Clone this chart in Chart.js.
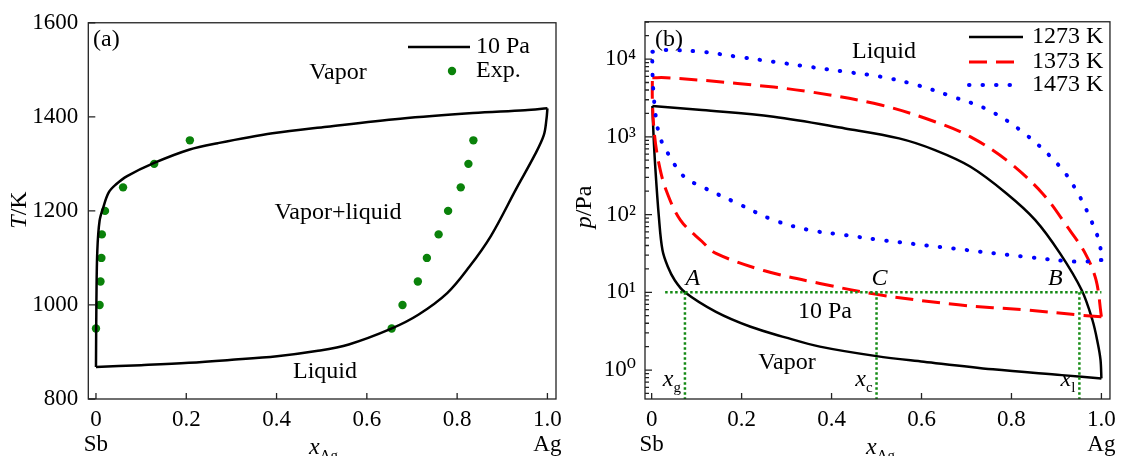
<!DOCTYPE html>
<html><head><meta charset="utf-8">
<script src="https://cdn.jsdelivr.net/npm/chart.js@4.4.0/dist/chart.umd.min.js"></script>
<style>
html,body{margin:0;padding:0;background:#fff;}
#wrap{position:relative;width:1124px;height:456px;overflow:hidden;background:#fff;}
canvas{position:absolute;left:0;top:0;}
</style></head><body>
<div id="wrap"><canvas id="ca" width="1124" height="456"></canvas><canvas id="cb" width="1124" height="456"></canvas></div>
<script>
// ---------- Panel (a): T-x phase diagram at 10 Pa ----------
const aLiqX = [0, 0.1, 0.206, 0.296, 0.401, 0.488, 0.56, 0.653, 0.714, 0.778, 0.827, 0.875, 0.932, 0.972, 0.992, 0.998, 1.0];
const aLiqT = [868, 872, 877, 883, 891, 902, 916, 949, 979, 1025, 1081, 1147, 1249, 1319, 1361, 1396, 1418];
const aVapX = [1.0, 0.95, 0.835, 0.674, 0.512, 0.391, 0.27, 0.206, 0.129, 0.069, 0.044, 0.028, 0.016, 0.008, 0.003, 0.001, 0];
const aVapT = [1418, 1414, 1408, 1396, 1379, 1365, 1344, 1330, 1302, 1274, 1256, 1239, 1207, 1179, 1116, 1011, 868];
const expX = [0, 0.008, 0.010, 0.012, 0.013, 0.02, 0.06, 0.129, 0.208,
              0.655, 0.679, 0.713, 0.733, 0.759, 0.780, 0.808, 0.825, 0.836];
const expT = [950, 1000, 1050, 1100, 1150, 1200, 1250, 1300, 1350,
              950, 1000, 1050, 1100, 1150, 1200, 1250, 1300, 1350];
const aXTicks = [0, 0.2, 0.4, 0.6, 0.8, 1.0];
const aXTickLabels = [['0', 'Sb'], '0.2', '0.4', '0.6', '0.8', ['1.0', 'Ag']];
const aYTicks = [800, 1000, 1200, 1400, 1600];
const aYTickLabels = ['800', '1000', '1200', '1400', '1600'];

// ---------- Panel (b): p-x phase diagram ----------
const xLiq1273 = [0.0016, 0.112, 0.271, 0.43, 0.55, 0.63, 0.709, 0.789, 0.853, 0.908, 0.956, 0.98, 0.992, 0.998, 1.0];
const pLiq1273 = [2490, 2208, 1812, 1283, 955, 675, 412, 187, 85, 31.7, 10.7, 4.4, 2.2, 1.35, 0.78];
const xVap1273 = [1.0, 0.912, 0.759, 0.605, 0.5, 0.374, 0.297, 0.22, 0.143, 0.074, 0.051, 0.036, 0.024, 0.016, 0.008, 0.004, 0.0016];
const pVap1273 = [0.78, 0.86, 1.02, 1.28, 1.51, 2.0, 2.63, 3.6, 5.6, 10, 14.4, 21.3, 35, 93.8, 412, 1107, 2490];
const xLiq1373 = [0.0016, 0.032, 0.191, 0.351, 0.51, 0.63, 0.709, 0.789, 0.869, 0.924, 0.964, 0.988, 1.0];
const pLiq1373 = [5760, 5760, 4866, 3800, 2560, 1563, 1000, 502, 187, 69.8, 31.7, 14.4, 4.85];
const xVap1373 = [1.0, 0.951, 0.836, 0.682, 0.5, 0.374, 0.251, 0.143, 0.112, 0.064, 0.032, 0.016, 0.006, 0.0016, 0.0016];
const pVap1373 = [4.85, 5.1, 5.9, 6.9, 9.4, 13, 18.9, 31.7, 45, 85, 207, 455, 1107, 2970, 5760];
const xLiq1473 = [0.0016, 0.032, 0.112, 0.191, 0.271, 0.351, 0.43, 0.51, 0.59, 0.669, 0.749, 0.829, 0.908, 0.948, 0.98, 0.996, 1.0];
const pLiq1473 = [12400, 13060, 12400, 10700, 9240, 7950, 6870, 5930, 4630, 3280, 2210, 1107, 412, 187, 77, 42.6, 26];
const xVap1473 = [1.0, 0.948, 0.829, 0.669, 0.51, 0.43, 0.351, 0.271, 0.191, 0.112, 0.072, 0.032, 0.016, 0.006, 0.0016, 0.0016];
const pVap1473 = [26, 24.7, 28.7, 36.7, 47, 54.5, 63.1, 85, 139, 228, 307, 675, 1107, 2690, 7220, 12400];
const pRef = 10;            // 10 Pa isobar
const xRefStart = 0.03;
const xG = 0.074, xC = 0.5, xL = 0.951;
const bYMin = 0.424, bYMax = 30200;
const bXTicks = [0, 0.2, 0.4, 0.6, 0.8, 1.0];
const bXTickLabels = [['0', 'Sb'], '0.2', '0.4', '0.6', '0.8', ['1.0', 'Ag']];
const bYTicks = [1, 10, 100, 1000, 10000];
const bYTickLabels = ['10\u2070', '10\u00B9', '10\u00B2', '10\u00B3', '10\u2074'];

const FONT = '"Liberation Serif","Times New Roman","DejaVu Serif",serif';
const FS = 23;   // tick labels
const FA = 24;   // annotations
const zip = (xs, ys) => xs.map((x, i) => ({x, y: ys[i]}));

function txt(ctx, parts, x, y, align) {
  let w = 0;
  parts.forEach(p => { ctx.font = (p.i ? 'italic ' : '') + (p.s || FA) + 'px ' + FONT; w += ctx.measureText(p.t).width; });
  let cx = align === 'center' ? x - w / 2 : align === 'right' ? x - w : x;
  ctx.textBaseline = 'middle'; ctx.textAlign = 'left'; ctx.fillStyle = '#000';
  parts.forEach(p => {
    ctx.font = (p.i ? 'italic ' : '') + (p.s || FA) + 'px ' + FONT;
    ctx.fillText(p.t, cx, y + (p.dy || 0));
    cx += ctx.measureText(p.t).width;
  });
}

function frameAndTicks(chart, xt, yt, minor) {
  const ctx = chart.ctx, a = chart.chartArea, xs = chart.scales.x, ys = chart.scales.y;
  ctx.save();
  ctx.strokeStyle = '#222'; ctx.lineWidth = 1.3;
  ctx.strokeRect(a.left, a.top, a.right - a.left, a.bottom - a.top);
  ctx.beginPath();
  xt.forEach(v => { const p = xs.getPixelForValue(v); ctx.moveTo(p, a.bottom); ctx.lineTo(p, a.bottom - 6); });
  yt.forEach(v => { const p = ys.getPixelForValue(v); ctx.moveTo(a.left, p); ctx.lineTo(a.left + 7, p); });
  if (minor) {
    for (let d = -1; d <= 4; d++) for (let m = 2; m <= 9; m++) {
      const v = m * Math.pow(10, d);
      if (v < ys.min || v > ys.max) continue;
      const p = ys.getPixelForValue(v); ctx.moveTo(a.left, p); ctx.lineTo(a.left + 4, p);
    }
  }
  ctx.stroke();
  ctx.restore();
}

function axisCommon(ticksArr, labels, fit, pad, extra) {
  return Object.assign({
    grid: {display: false, drawTicks: false}, border: {display: false},
    afterBuildTicks: s => { s.ticks = ticksArr.map(v => ({value: v})); },
    afterFit: fit,
    ticks: {
      color: '#000', padding: pad, autoSkip: false, maxRotation: 0,
      font: {family: FONT, size: FS, lineHeight: 1.11},
      callback: (v) => { const i = ticksArr.findIndex(t => Math.abs(t - v) < 1e-9 * Math.max(1, Math.abs(t))); return i >= 0 ? labels[i] : ''; }
    }
  }, extra);
}

const annotA = {
  id: 'annotA',
  afterDatasetsDraw(chart) {
    frameAndTicks(chart, aXTicks, aYTicks, false);
    const ctx = chart.ctx;
    ctx.save();
    txt(ctx, [{t: '(a)'}], 93, 40, 'left');
    txt(ctx, [{t: 'Vapor'}], 338, 73, 'center');
    txt(ctx, [{t: 'Vapor+liquid'}], 338, 213, 'center');
    txt(ctx, [{t: 'Liquid'}], 325, 372, 'center');
    // legend
    ctx.strokeStyle = '#000'; ctx.lineWidth = 2.5;
    ctx.beginPath(); ctx.moveTo(408, 47); ctx.lineTo(470, 47); ctx.stroke();
    txt(ctx, [{t: '10 Pa'}], 476, 47, 'left');
    ctx.fillStyle = '#0a820a'; ctx.beginPath(); ctx.arc(452, 71, 4.2, 0, Math.PI * 2); ctx.fill();
    txt(ctx, [{t: 'Exp.'}], 476, 71, 'left');
    // axis titles
    ctx.save(); ctx.translate(20, 210); ctx.rotate(-Math.PI / 2);
    txt(ctx, [{t: 'T', i: true}, {t: '/K'}], 0, 0, 'center');
    ctx.restore();
    txt(ctx, [{t: 'x', i: true}, {t: 'Ag', s: 15, dy: 8}], 309, 448, 'left');
    ctx.restore();
  }
};

const annotB = {
  id: 'annotB',
  afterDatasetsDraw(chart) {
    frameAndTicks(chart, bXTicks, bYTicks, true);
    const ctx = chart.ctx, xs = chart.scales.x, ys = chart.scales.y;
    ctx.save();
    txt(ctx, [{t: '(b)'}], 655, 40, 'left');
    txt(ctx, [{t: 'Liquid'}], 884, 52, 'center');
    const py = ys.getPixelForValue(pRef);
    txt(ctx, [{t: 'A', i: true}], xs.getPixelForValue(xG) + 8, py - 14, 'center');
    txt(ctx, [{t: 'C', i: true}], xs.getPixelForValue(xC) + 3, py - 14, 'center');
    txt(ctx, [{t: 'B', i: true}], xs.getPixelForValue(xL) - 24, py - 14, 'center');
    txt(ctx, [{t: '10 Pa'}], 825, 312, 'center');
    txt(ctx, [{t: 'Vapor'}], 787, 363, 'center');
    txt(ctx, [{t: 'x', i: true}, {t: 'g', s: 15, dy: 8}], xs.getPixelForValue(xG) - 4, 380, 'right');
    txt(ctx, [{t: 'x', i: true}, {t: 'c', s: 15, dy: 8}], xs.getPixelForValue(xC) - 4, 380, 'right');
    txt(ctx, [{t: 'x', i: true}, {t: 'l', s: 15, dy: 8}], xs.getPixelForValue(xL) - 4, 380, 'right');
    // legend
    const L = [[37, '#000', [], 'butt', 2.5, '1273 K'], [62, '#ff0000', [18, 9], 'butt', 3, '1373 K'], [85, '#0000ff', [0.5, 13], 'round', 4, '1473 K']];
    L.forEach(l => {
      ctx.strokeStyle = l[1]; ctx.setLineDash(l[2]); ctx.lineCap = l[3]; ctx.lineWidth = l[4];
      ctx.beginPath(); ctx.moveTo(969, l[0]); ctx.lineTo(1023, l[0]); ctx.stroke();
      ctx.setLineDash([]); ctx.lineCap = 'butt';
      txt(ctx, [{t: l[5]}], 1032, l[0], 'left');
    });
    ctx.save(); ctx.translate(585, 207); ctx.rotate(-Math.PI / 2);
    txt(ctx, [{t: 'p', i: true}, {t: '/Pa'}], 0, 0, 'center');
    ctx.restore();
    txt(ctx, [{t: 'x', i: true}, {t: 'Ag', s: 15, dy: 8}], 866, 448, 'left');
    ctx.restore();
  }
};

const lineDs = (data, color, width, dash, cap, tension) => ({
  type: 'scatter', data, showLine: true, borderColor: color, backgroundColor: color, borderWidth: width,
  borderDash: dash || [], borderCapStyle: cap || 'butt', pointRadius: 0,
  tension: tension === undefined ? 0.35 : tension, fill: false
});

new Chart(document.getElementById('ca'), {
  type: 'scatter',
  data: {datasets: [
    lineDs(zip(aLiqX, aLiqT), '#000', 2.5),
    lineDs(zip(aVapX, aVapT), '#000', 2.5),
    {type: 'scatter', data: zip(expX, expT), pointRadius: 4.2, pointBackgroundColor: '#0a820a', pointBorderWidth: 0, showLine: false}
  ]},
  options: {
    responsive: false, animation: false, events: [],
    layout: {padding: {left: 0, top: 21.7, right: 1124 - 556, bottom: 0}},
    plugins: {legend: {display: false}, tooltip: {enabled: false}},
    scales: {
      x: axisCommon(aXTicks, aXTickLabels, s => { s.height = 57; }, 8, {type: 'linear', min: -0.017, max: 1.019}),
      y: axisCommon(aYTicks, aYTickLabels, s => { s.width = 88.3; }, 10, {type: 'linear', min: 800, max: 1600})
    }
  },
  plugins: [annotA]
});

const gDs = (data) => lineDs(data, '#138a13', 2.5, [2.5, 2.5], 'butt', 0);
new Chart(document.getElementById('cb'), {
  type: 'scatter',
  data: {datasets: [
    gDs([{x: xRefStart, y: pRef}, {x: 1.0, y: pRef}]),
    gDs([{x: xG, y: pRef}, {x: xG, y: bYMin}]),
    gDs([{x: xC, y: pRef}, {x: xC, y: bYMin}]),
    gDs([{x: xL, y: pRef}, {x: xL, y: bYMin}]),
    lineDs(zip(xLiq1473, pLiq1473), '#0000ff', 4, [0.5, 13], 'round'),
    lineDs(zip(xVap1473, pVap1473), '#0000ff', 4, [0.5, 13], 'round'),
    lineDs(zip(xLiq1373, pLiq1373), '#ff0000', 3, [18, 9]),
    lineDs(zip(xVap1373, pVap1373), '#ff0000', 3, [18, 9]),
    lineDs(zip(xLiq1273, pLiq1273), '#000', 2.5),
    lineDs(zip(xVap1273, pVap1273), '#000', 2.5)
  ]},
  options: {
    responsive: false, animation: false, events: [],
    layout: {padding: {left: 560, top: 21.7, right: 11.3, bottom: 0}},
    plugins: {legend: {display: false}, tooltip: {enabled: false}},
    scales: {
      x: axisCommon(bXTicks, bXTickLabels, s => { s.height = 57; }, 8, {type: 'linear', min: -0.0148, max: 1.019}),
      y: axisCommon(bYTicks, bYTickLabels, s => { s.width = 85; }, 9, {type: 'logarithmic', min: bYMin, max: bYMax})
    }
  },
  plugins: [annotB]
});
</script>
</body></html>
